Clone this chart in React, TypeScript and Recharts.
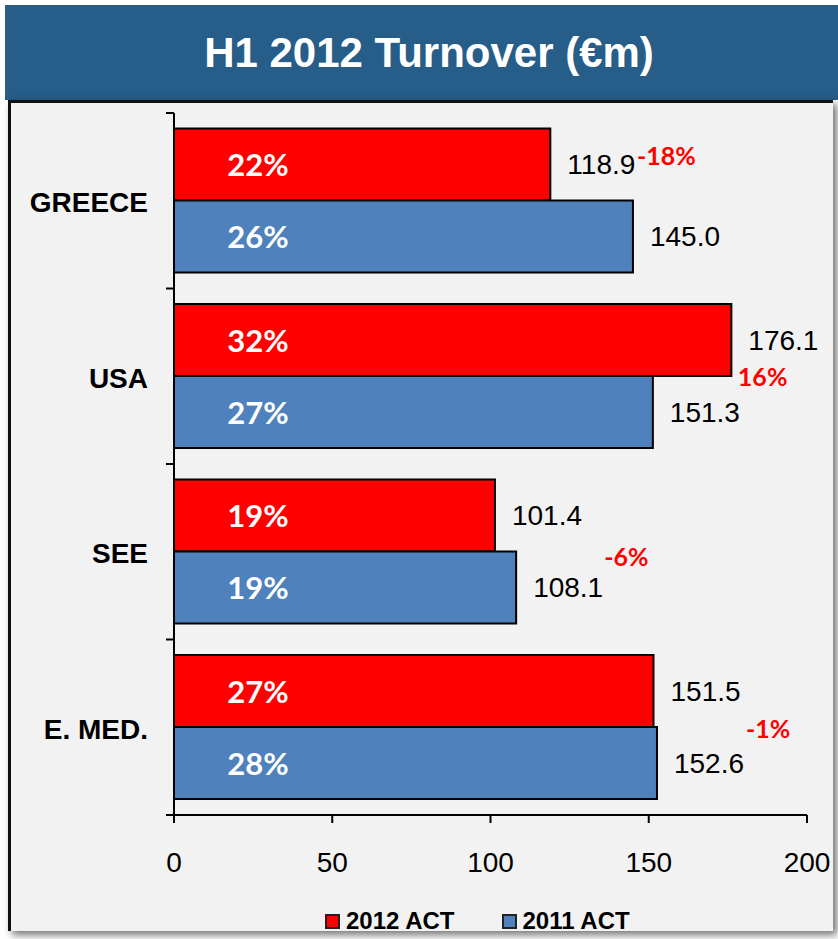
import { BarChart, Bar, XAxis, YAxis, LabelList, Legend } from 'recharts'

const regions = ['GREECE', 'USA', 'SEE', 'E. MED.']
const act2012 = [118.9, 176.1, 101.4, 151.5]
const act2011 = [145.0, 151.3, 108.1, 152.6]
const share2012 = [22, 32, 19, 27]
const share2011 = [26, 27, 19, 28]
const changePct = [-18, 16, -6, -1]
const xTicks = [0, 50, 100, 150, 200]
const seriesOrder = ['2012 ACT', '2011 ACT']

// hand placement of the red change labels, relative to the end of the 2011 bar
const changeShift = [
  [4, -45],
  [85, 0],
  [88, 5],
  [89, 1],
]

const data = regions.map((region, i) => ({
  region,
  act2012: act2012[i],
  act2011: act2011[i],
  share2012: share2012[i],
  share2011: share2011[i],
  change: changePct[i],
}))

const W = 838
const H = 939
const PLOT_TOP = 113
const PLOT_BOTTOM = 815
const BAND = (PLOT_BOTTOM - PLOT_TOP) / regions.length

const arial = '"Liberation Sans", Arial, sans-serif'
const calibri = 'Lato, "Open Sans", sans-serif'

const box = (p: any) => {
  const vb = p.viewBox || {}
  return {
    x: p.x ?? vb.x,
    y: p.y ?? vb.y,
    width: p.width ?? vb.width,
    height: p.height ?? vb.height,
  }
}

const ShareLabel = (p: any) => {
  const { x, y, height } = box(p)
  return (
    <text
      x={x + 84}
      y={y + height / 2}
      textAnchor="middle"
      dominantBaseline="central"
      fill="#fff"
      fontFamily={calibri}
      fontWeight={700}
      fontSize={31}
    >
      {p.value}%
    </text>
  )
}

const ChangeLabel = (p: any) => {
  const { x, y, width } = box(p)
  const [dx, dy] = changeShift[p.index] || [0, 0]
  return (
    <text
      x={x + width + dx}
      y={y + dy}
      textAnchor="start"
      dominantBaseline="central"
      fill="#ff0000"
      fontFamily={calibri}
      fontWeight={700}
      fontSize={25}
    >
      {p.value}%
    </text>
  )
}

const RegionTick = (p: any) => {
  const { x, y, payload, index } = p
  const axisX = x + 26
  return (
    <g>
      <text
        x={x}
        y={y + 2}
        textAnchor="end"
        dominantBaseline="central"
        fill="#000"
        fontFamily={arial}
        fontWeight={700}
        fontSize={28}
      >
        {payload.value}
      </text>
      {index === 0 && (
        <line x1={axisX - 8} x2={axisX} y1={y - BAND / 2} y2={y - BAND / 2} stroke="#000" strokeWidth={2} />
      )}
      <line x1={axisX - 8} x2={axisX} y1={y + BAND / 2} y2={y + BAND / 2} stroke="#000" strokeWidth={2} />
    </g>
  )
}

const LegendContent = (p: any) => {
  const items = [...(p.payload || [])].sort(
    (a: any, b: any) => seriesOrder.indexOf(a.value) - seriesOrder.indexOf(b.value)
  )
  return (
    <div style={{ display: 'flex', alignItems: 'center', height: 24 }}>
      {items.map((entry: any, i: number) => (
        <div key={i} style={{ display: 'flex', alignItems: 'center', marginRight: i === 0 ? 47 : 0 }}>
          <span
            style={{
              display: 'inline-block',
              width: 11,
              height: 11,
              background: entry.color,
              border: '2px solid #222',
              marginRight: 6,
            }}
          />
          <span style={{ fontFamily: arial, fontWeight: 700, fontSize: 24, color: '#000' }}>{entry.value}</span>
        </div>
      ))}
    </div>
  )
}

export default function App() {
  return (
    <div style={{ position: 'absolute', left: 0, top: 0, width: W, height: H, background: '#fff', overflow: 'hidden' }}>
      <div
        style={{
          position: 'absolute',
          left: 5,
          top: 5,
          width: W - 5,
          height: 95,
          background: '#265d89',
          color: '#fff',
          fontFamily: arial,
          fontWeight: 700,
          fontSize: 42,
          display: 'flex',
          alignItems: 'center',
          justifyContent: 'center',
          paddingLeft: 15,
          boxSizing: 'border-box',
        }}
      >
        H1 2012 Turnover (€m)
      </div>
      <div
        style={{
          position: 'absolute',
          left: 8,
          top: 100,
          width: 822,
          height: 828,
          background: '#f2f2f2',
          borderLeft: '3px solid #111',
          borderTop: '3px solid #111',
          boxShadow: '4px 4px 8px rgba(0,0,0,0.55)',
        }}
      />
      <div style={{ position: 'absolute', left: 0, top: 0 }}>
        <BarChart
          width={W}
          height={H}
          data={data}
          layout="vertical"
          margin={{ top: PLOT_TOP, right: 31, bottom: 40, left: 0 }}
          barCategoryGap="8.8%"
          barGap={0}
        >
          <XAxis
            type="number"
            domain={[0, 200]}
            ticks={xTicks}
            height={60}
            axisLine={{ stroke: '#000', strokeWidth: 2 }}
            tickLine={{ stroke: '#000', strokeWidth: 2 }}
            tickSize={8}
            tickMargin={29}
            tick={{ fill: '#000', fontFamily: arial, fontSize: 28 }}
          />
          <YAxis
            type="category"
            dataKey="region"
            width={174}
            axisLine={{ stroke: '#000', strokeWidth: 2 }}
            tickLine={false}
            tickSize={8}
            tickMargin={18}
            tick={<RegionTick />}
          />
          <Legend
            verticalAlign="bottom"
            content={<LegendContent />}
            wrapperStyle={{ left: 325, bottom: 6, width: 'auto', height: 24 }}
          />
          <Bar dataKey="act2012" name="2012 ACT" fill="#ff0000" stroke="#000" strokeWidth={2} isAnimationActive={false}>
            <LabelList dataKey="share2012" content={<ShareLabel />} />
            <LabelList
              dataKey="act2012"
              position="right"
              offset={17}
              formatter={(v: any) => Number(v).toFixed(1)}
              fill="#000"
              fontFamily={arial}
              fontSize={28}
            />
          </Bar>
          <Bar dataKey="act2011" name="2011 ACT" fill="#4f81bd" stroke="#000" strokeWidth={2} isAnimationActive={false}>
            <LabelList dataKey="share2011" content={<ShareLabel />} />
            <LabelList
              dataKey="act2011"
              position="right"
              offset={17}
              formatter={(v: any) => Number(v).toFixed(1)}
              fill="#000"
              fontFamily={arial}
              fontSize={28}
            />
            <LabelList dataKey="change" content={<ChangeLabel />} />
          </Bar>
        </BarChart>
      </div>
    </div>
  )
}
